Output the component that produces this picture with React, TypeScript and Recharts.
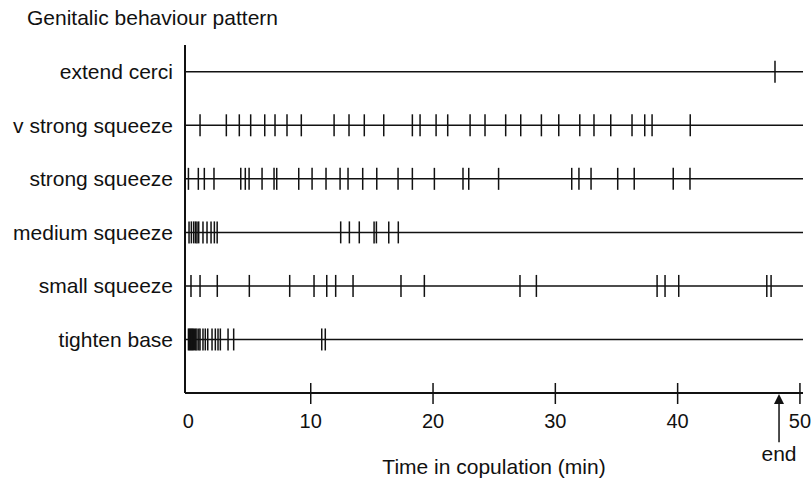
import {
  ScatterChart,
  Scatter,
  XAxis,
  YAxis,
  ReferenceLine,
} from "recharts";

const FONT = "'Liberation Sans', Arial, Helvetica, sans-serif";
const INK = "#111";

// row names, bottom to top
const rowNames = [
  "tighten base",
  "small squeeze",
  "medium squeeze",
  "strong squeeze",
  "v strong squeeze",
  "extend cerci",
];

// event times (min) per behaviour
const tightenBase = [
  0.0, 0.08, 0.16, 0.24, 0.32, 0.4, 0.5, 0.6, 0.7, 0.85, 0.95, 1.19, 1.38,
  1.58, 1.93, 2.2, 2.42, 2.61, 3.24, 3.7, 10.9, 11.19,
];
const smallSqueeze = [
  0.21, 0.95, 2.36, 4.98, 8.28, 10.27, 11.31, 12.04, 13.46, 17.38, 19.29,
  27.11, 28.45, 38.32, 38.97, 40.09, 47.29, 47.64,
];
const mediumSqueeze = [
  0.05, 0.24, 0.43, 0.58, 0.7, 0.84, 1.19, 1.52, 1.85, 2.12, 2.35, 12.45,
  13.16, 13.97, 15.18, 15.37, 16.38, 17.16,
];
const strongSqueeze = [
  0.0, 0.81, 1.3, 2.09, 4.28, 4.65, 4.96, 6.02, 7.0, 7.22, 9.02, 10.11, 11.25,
  12.4, 13.05, 14.25, 15.4, 17.14, 18.31, 20.11, 22.45, 22.92, 25.36, 31.34,
  31.93, 32.92, 35.1, 36.45, 39.64, 41.01,
];
const vStrongSqueeze = [
  0.95, 3.1, 4.16, 5.09, 6.24, 7.08, 8.06, 9.23, 11.91, 13.13, 14.38, 15.97,
  18.31, 18.94, 20.25, 21.2, 23.03, 24.25, 25.94, 27.17, 28.86, 30.28, 32.0,
  33.16, 34.53, 36.27, 37.31, 37.91, 41.03,
];
const extendCerci = [47.96];

const rowTimes = [
  tightenBase,
  smallSqueeze,
  mediumSqueeze,
  strongSqueeze,
  vStrongSqueeze,
  extendCerci,
];

const timeTicks = [0, 10, 20, 30, 40, 50];
const endTime = 48.29;

const EventMark = (props: any) => {
  const { cx, cy } = props;
  return (
    <line
      x1={cx}
      x2={cx}
      y1={cy - 11}
      y2={cy + 11}
      stroke={INK}
      strokeWidth={1.5}
    />
  );
};

const TimeTick = (props: any) => {
  const { x, y, payload } = props;
  return (
    <g>
      {payload.value !== 0 && (
        <line
          x1={x}
          x2={x}
          y1={y - 10}
          y2={y + 11}
          stroke={INK}
          strokeWidth={1.5}
        />
      )}
      <text
        x={x}
        y={y + 35}
        textAnchor="middle"
        fontSize={20}
        fontFamily={FONT}
        fill={INK}
      >
        {payload.value}
      </text>
    </g>
  );
};

const EndArrow = (props: any) => {
  const { x1, y1, y2 } = props;
  return (
    <g>
      <line x1={x1} x2={x1} y1={y1 + 8} y2={y2} stroke={INK} strokeWidth={1.5} />
      <polygon
        points={`${x1},${y1 + 1} ${x1 - 5},${y1 + 11} ${x1 + 5},${y1 + 11}`}
        fill={INK}
      />
      <text
        x={x1}
        y={y2 + 19}
        textAnchor="middle"
        fontSize={21}
        fontFamily={FONT}
        fill={INK}
      >
        end
      </text>
    </g>
  );
};

export default function App() {
  return (
    <div
      style={{
        position: "absolute",
        left: 0,
        top: 0,
        width: 812,
        height: 480,
        background: "#fff",
      }}
    >
      <div
        style={{
          position: "absolute",
          left: 27,
          top: 6,
          fontFamily: FONT,
          fontSize: 21,
          color: INK,
          whiteSpace: "nowrap",
        }}
      >
        Genitalic behaviour pattern
      </div>
      <ScatterChart
        width={812}
        height={480}
        margin={{ top: 45, right: 9, bottom: 0, left: 0 }}
      >
        <XAxis
          dataKey="t"
          type="number"
          domain={[-0.28, 50.25]}
          allowDataOverflow
          ticks={timeTicks}
          tick={<TimeTick />}
          tickLine={false}
          tickSize={0}
          tickMargin={0}
          height={87}
          axisLine={{ stroke: INK, strokeWidth: 2 }}
          label={{
            value: "Time in copulation (min)",
            position: "insideBottom",
            offset: 6,
            fontSize: 21,
            fontFamily: FONT,
            fill: INK,
          }}
        />
        <YAxis
          dataKey="row"
          type="number"
          domain={[0, 6.5]}
          allowDataOverflow
          ticks={[1, 2, 3, 4, 5, 6]}
          tickFormatter={(v: number) => rowNames[v - 1]}
          width={185}
          tickLine={false}
          tickMargin={6}
          axisLine={{ stroke: INK, strokeWidth: 2 }}
          tick={{ fill: INK, fontSize: 21, fontFamily: FONT }}
          interval={0}
        />
        {rowNames.map((_, i) => (
          <ReferenceLine
            key={"base" + i}
            y={i + 1}
            stroke={INK}
            strokeWidth={1.5}
          />
        ))}
        {rowTimes.map((times, i) => (
          <Scatter
            key={rowNames[i]}
            name={rowNames[i]}
            data={times.map((t) => ({ t, row: i + 1 }))}
            shape={<EventMark />}
            isAnimationActive={false}
          />
        ))}
        <ReferenceLine
          segment={[
            { x: endTime, y: 0 },
            { x: endTime, y: -0.92 },
          ]}
          ifOverflow="visible"
          shape={<EndArrow />}
        />
      </ScatterChart>
    </div>
  );
}
